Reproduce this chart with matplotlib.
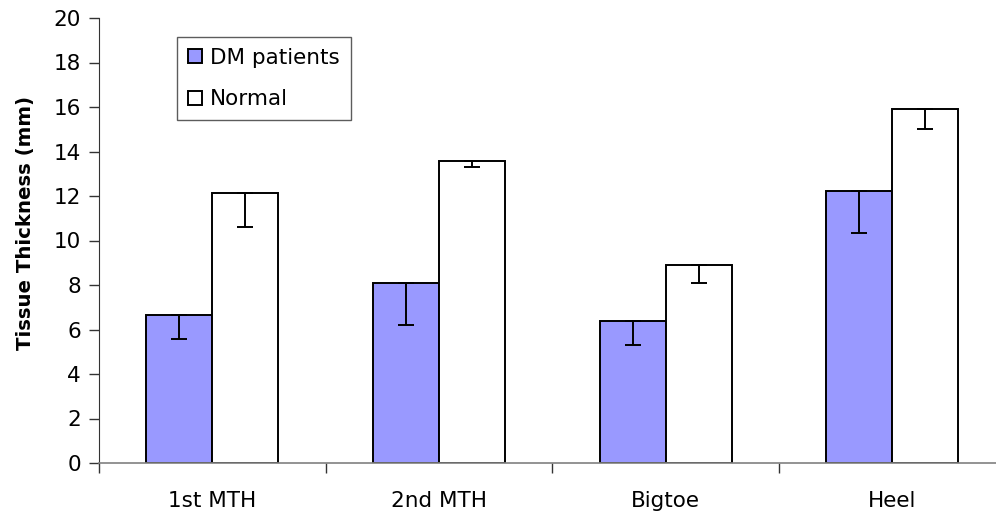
import matplotlib
matplotlib.use("Agg")
import matplotlib.pyplot as plt
import numpy as np

categories = ["1st MTH", "2nd MTH", "Bigtoe", "Heel"]
dm_values = [6.65, 8.1, 6.4, 12.22]
dm_err = [1.06, 1.88, 1.1, 1.87]
normal_values = [12.13, 13.59, 8.91, 15.91]
normal_err = [1.51, 0.27, 0.81, 0.9]
series_labels = ["DM patients", "Normal"]

plt.rcParams['font.family'] = ['DejaVu Sans']
fig = plt.figure(figsize=(9.96, 5.22), dpi=100)
ax = fig.add_axes([99/996, 59/522, 906.7/996, 445/522])

x = np.arange(len(categories))
w = 0.291
off = 0.1455
ekw = dict(elinewidth=1.4, capthick=1.4, ecolor='black')
ax.bar(x - off, dm_values, w, color='#9999FF', edgecolor='black', linewidth=1.4,
       label=series_labels[0], zorder=2)
ax.errorbar(x - off, dm_values, yerr=[dm_err, [0]*4], fmt='none', capsize=5.5, zorder=3, **ekw)
ax.bar(x + off, normal_values, w, color='white', edgecolor='black', linewidth=1.4,
       label=series_labels[1], zorder=2)
ax.errorbar(x + off, normal_values, yerr=[normal_err, [0]*4], fmt='none', capsize=5.5, zorder=3, **ekw)

ax.set_xlim(-0.5, 3.5)
ax.set_ylim(0, 20)
ax.set_yticks(np.arange(0, 21, 2))
ax.set_xticks(x)
ax.set_xticklabels(categories)
ax.set_xticks([-0.5, 0.5, 1.5, 2.5], minor=True)
ax.tick_params(axis='x', which='major', length=0, pad=20, labelsize=15.5)
ax.tick_params(axis='x', which='minor', length=7, width=1, color='#333333', direction='out')
ax.tick_params(axis='y', length=7, width=1, pad=6, labelsize=15.5, color='#333333')

for s in ['top', 'right']:
    ax.spines[s].set_visible(False)
ax.spines['left'].set_color('#333333')
ax.spines['bottom'].set_color('#808080')
ax.spines['bottom'].set_linewidth(1.2)

ax.set_ylabel("Tissue Thickness (mm)", fontsize=14.2, fontweight='bold')
ax.yaxis.set_label_coords(-0.0706, 0.539)

leg = ax.legend(loc='upper left', bbox_to_anchor=(78/906.7, (463 - 37)/445), borderaxespad=0,
                frameon=True, fancybox=False, edgecolor='#333333', fontsize=15.5,
                handlelength=0.65, handleheight=0.65, handletextpad=0.4, borderpad=0.5,
                labelspacing=1.0)
leg.get_frame().set_linewidth(1.0)

fig.savefig("out.png", dpi=100)
